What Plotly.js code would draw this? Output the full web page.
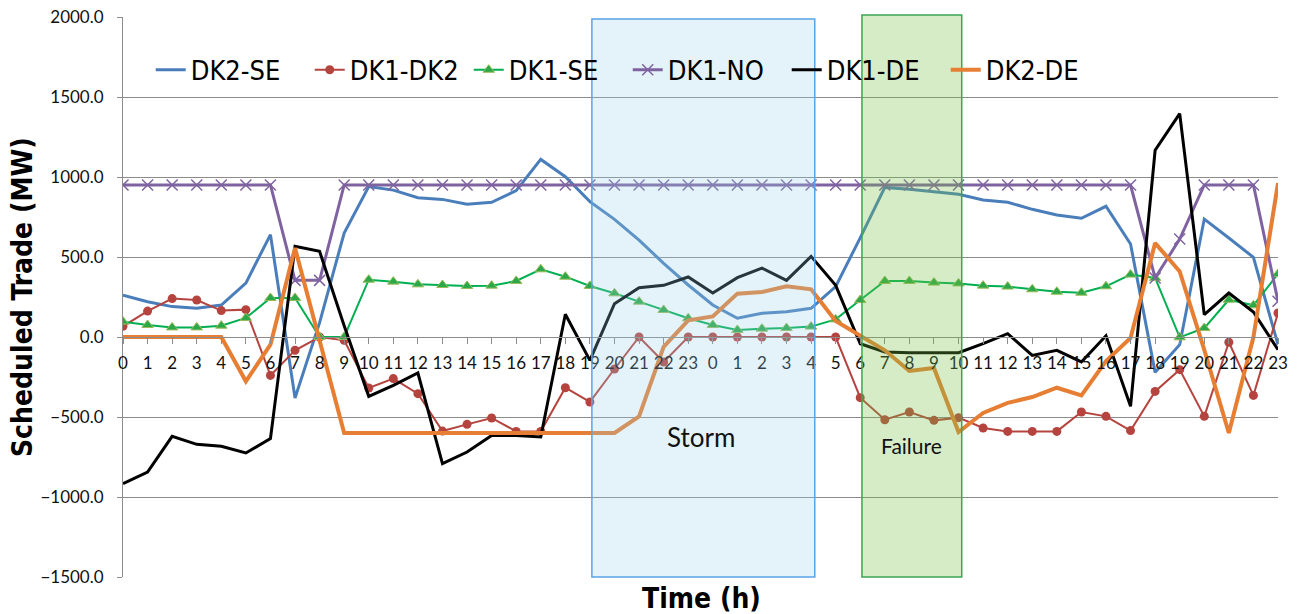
<!DOCTYPE html>
<html>
<head>
<meta charset="utf-8">
<script src="https://cdn.plot.ly/plotly-3.0.1.min.js"></script>
<style>
  html, body { margin: 0; padding: 0; background: #fff; }
  #myPlot { width: 1301px; height: 614px; }
</style>
</head>
<body>
<div id="myPlot"></div>
<script>
// two days of hourly slots, 48 points
const hourLabels = [
  "0", "1", "2", "3", "4", "5", "6", "7", "8", "9", "10", "11",
  "12", "13", "14", "15", "16", "17", "18", "19", "20", "21", "22", "23",
  "0", "1", "2", "3", "4", "5", "6", "7", "8", "9", "10", "11",
  "12", "13", "14", "15", "16", "17", "18", "19", "20", "21", "22", "23"
];

const dk2Se = [
  262, 220, 190, 180, 200, 337, 640, -381, 90, 650, 940, 918,
  870, 860, 830, 842, 915, 1110, 1002, 846, 735, 606, 460, 325,
  200, 117, 148, 158, 179, 315, 620, 935, 923, 908, 892, 856,
  842, 798, 762, 742, 817, 581, -221, -48, 737, 619, 498, -48
];
const dk1Dk2 = [
  67, 162, 240, 231, 165, 171, -240, -83, 0, -21, -319, -260,
  -354, -588, -546, -506, -590, -590, -317, -406, -200, 0, -156, 0,
  0, 0, 0, 0, 0, 0, -379, -517, -469, -521, -504, -569,
  -590, -590, -590, -469, -496, -585, -340, -204, -496, -33, -365, 150
];
const dk1Se = [
  96, 75, 60, 60, 71, 119, 244, 244, 0, 0, 358, 346,
  329, 325, 319, 321, 350, 423, 377, 319, 273, 221, 169, 117,
  75, 44, 52, 56, 65, 110, 231, 350, 350, 340, 335, 321,
  315, 298, 283, 277, 317, 390, 369, -2, 56, 233, 198, 394
];
const dk1No = [
  950, 950, 950, 950, 950, 950, 950, 354, 354, 950, 950, 950,
  950, 950, 950, 950, 950, 950, 950, 950, 950, 950, 950, 950,
  950, 950, 950, 950, 950, 950, 950, 950, 950, 950, 950, 950,
  950, 950, 950, 950, 950, 950, 369, 612, 950, 950, 950, 223
];
const dk1De = [
  -917, -844, -621, -671, -683, -725, -635, 567, 535, 70, -371, -302,
  -225, -792, -719, -615, -615, -625, 142, -146, 208, 308, 323, 375,
  275, 371, 431, 354, 504, 323, -42, -94, -98, -98, -98, -42,
  21, -115, -83, -156, 8, -433, 1167, 1396, 140, 275, 156, -79
];
const dk2De = [
  0, 0, 0, 0, 0, -277, -48, 556, -20, -600, -600, -600,
  -600, -600, -600, -600, -600, -600, -600, -600, -600, -496, -62, 104,
  129, 271, 281, 317, 298, 100, 10, -83, -212, -194, -594, -475,
  -412, -375, -317, -365, -150, -6, 587, 410, -80, -600, 0, 962
];

const slots = hourLabels.map((_, i) => i);

const lineFont = "'Liberation Sans Narrow', 'Arial Narrow', 'DejaVu Sans Condensed', Arial, sans-serif";
const tickFont = "Lato, Calibri, sans-serif";

const traces = [
  {
    name: "DK2-SE", x: slots, y: dk2Se, type: "scatter", mode: "lines",
    line: { color: "#4a7ebb", width: 3 }
  },
  {
    name: "DK1-DK2", x: slots, y: dk1Dk2, type: "scatter", mode: "lines+markers",
    line: { color: "#b5443f", width: 2 },
    marker: { symbol: "circle", size: 9, color: "#b5443f" }
  },
  {
    name: "DK1-SE", x: slots, y: dk1Se, type: "scatter", mode: "lines+markers",
    line: { color: "#00b050", width: 2 },
    marker: { symbol: "triangle-up", size: 10, color: "#2aa84a", line: { color: "#9bbb59", width: 1 } }
  },
  {
    name: "DK1-NO", x: slots, y: dk1No, type: "scatter", mode: "lines+markers",
    line: { color: "#7f63a1", width: 3 },
    marker: { symbol: "x-thin", size: 11, color: "#7f63a1", line: { color: "#7f63a1", width: 1.5 } }
  },
  {
    name: "DK1-DE", x: slots, y: dk1De, type: "scatter", mode: "lines",
    line: { color: "#000000", width: 3 }
  },
  {
    name: "DK2-DE", x: slots, y: dk2De, type: "scatter", mode: "lines",
    line: { color: "#e67e33", width: 4 }
  }
];

const layout = {
  width: 1301,
  height: 614,
  margin: { l: 123, r: 23, t: 17, b: 37 },
  paper_bgcolor: "#ffffff",
  plot_bgcolor: "#ffffff",
  showlegend: true,
  legend: {
    orientation: "h",
    x: 0.024, xanchor: "left",
    y: 0.905, yanchor: "middle",
    font: { family: lineFont, size: 27, color: "#000" },
    bgcolor: "rgba(0,0,0,0)",
    entrywidth: 114,
    entrywidthmode: "pixels",
    itemwidth: 30
  },
  xaxis: {
    range: [0, 47],
    tickvals: slots,
    ticktext: hourLabels,
    anchor: "free",
    position: 1500 / 3500,
    showgrid: false,
    zeroline: false,
    showline: true,
    linecolor: "#8c8c8c",
    linewidth: 1,
    ticks: "outside",
    ticklen: 6,
    tickcolor: "#8c8c8c",
    ticklabelstandoff: 5,
    tickfont: { family: tickFont, size: 17, color: "#111" },
    fixedrange: true
  },
  yaxis: {
    range: [-1500, 2000],
    dtick: 500,
    tickformat: ".1f",
    showgrid: true,
    gridcolor: "#8c8c8c",
    gridwidth: 1,
    zeroline: false,
    showline: true,
    linecolor: "#8c8c8c",
    ticks: "outside",
    ticklen: 5,
    tickcolor: "#8c8c8c",
    ticklabelstandoff: 10,
    tickfont: { family: tickFont, size: 17, color: "#111" },
    fixedrange: true
  },
  shapes: [
    {
      type: "rect", layer: "above",
      xref: "x", yref: "paper",
      x0: 19.08, x1: 28.15, y0: 0, y1: 1 - 2 / 560,
      fillcolor: "rgba(150,210,232,0.26)",
      line: { color: "#5aa3e8", width: 1.5 }
    },
    {
      type: "rect", layer: "above",
      xref: "x", yref: "paper",
      x0: 30.07, x1: 34.13, y0: 0, y1: 1 + 2 / 560,
      fillcolor: "rgba(120,192,70,0.3)",
      line: { color: "#3ca552", width: 1.5 }
    }
  ],
  annotations: [
    {
      text: "Storm", xref: "x", yref: "y", x: 23.5, y: -625,
      showarrow: false, font: { family: tickFont, size: 26, color: "#111" }
    },
    {
      text: "Failure", xref: "x", yref: "y", x: 32.08, y: -681,
      showarrow: false, font: { family: tickFont, size: 21, color: "#111" }
    },
    {
      text: "<b>Time (h)</b>", xref: "paper", yref: "paper", x: 0.501, y: -0.0375,
      xanchor: "center", yanchor: "middle",
      showarrow: false, font: { family: lineFont, size: 28, color: "#000" }
    },
    {
      text: "<b>Scheduled Trade (MW)</b>", xref: "paper", yref: "paper",
      x: -0.0874, y: 0.5, xanchor: "center", yanchor: "middle", textangle: -90,
      showarrow: false, font: { family: lineFont, size: 28, color: "#000" }
    }
  ]
};

Plotly.newPlot("myPlot", traces, layout, { displayModeBar: false, staticPlot: true });
</script>
</body>
</html>
